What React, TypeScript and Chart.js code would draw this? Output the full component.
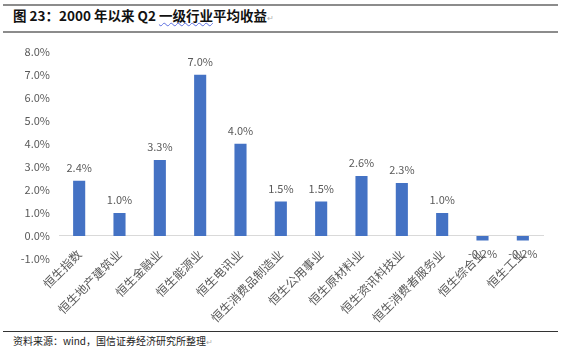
import React, { useEffect, useRef } from "react";
import { Chart, registerables } from "chart.js";

Chart.register(...registerables);

const categories = [
  "恒生指数",
  "恒生地产建筑业",
  "恒生金融业",
  "恒生能源业",
  "恒生电讯业",
  "恒生消费品制造业",
  "恒生公用事业",
  "恒生原材料业",
  "恒生资讯科技业",
  "恒生消费者服务业",
  "恒生综合业",
  "恒生工业",
];
const values = [2.4, 1.0, 3.3, 7.0, 4.0, 1.5, 1.5, 2.6, 2.3, 1.0, -0.2, -0.2];
const yMin = -1;
const yMax = 8;
const yStep = 1;

const titleText = "图 23：2000 年以来 Q2 ";
const titleUnderlined = "一级行业";
const titleRest = "平均收益";
const sourceText = "资料来源：wind，国信证券经济研究所整理";

const FONT = "'Noto Sans CJK SC', 'Noto Sans', sans-serif";
const LABEL_COLOR = "#595959";

const dataLabelPlugin = {
  id: "dataLabels",
  afterDatasetsDraw(chart: any) {
    const ctx = chart.ctx;
    const meta = chart.getDatasetMeta(0);
    ctx.save();
    ctx.font = `11px ${FONT}`;
    ctx.fillStyle = LABEL_COLOR;
    ctx.textAlign = "center";
    ctx.textBaseline = "middle";
    meta.data.forEach((el: any, i: number) => {
      const v = values[i];
      const label = v.toFixed(1) + "%";
      const y = v >= 0 ? el.y - 13 : el.y + 13;
      ctx.fillText(label, el.x, y);
    });
    ctx.restore();
  },
};

function BarChart() {
  const ref = useRef<HTMLCanvasElement | null>(null);
  useEffect(() => {
    if (!ref.current) return;
    const chart = new Chart(ref.current, {
      type: "bar",
      data: {
        labels: categories,
        datasets: [
          {
            data: values,
            backgroundColor: "#4472C4",
            borderWidth: 0,
            categoryPercentage: 1,
            barPercentage: 0.3,
          },
        ],
      },
      options: {
        animation: false,
        responsive: false,
        maintainAspectRatio: false,
        devicePixelRatio: 1,
        layout: { padding: { top: 15, bottom: 71, left: 9, right: 26 } },
        plugins: {
          legend: { display: false },
          title: { display: false },
          tooltip: { enabled: false },
        },
        scales: {
          x: {
            position: { y: 0 } as any,
            grid: { display: false, drawTicks: false },
            border: { display: true, color: "#d9d9d9", width: 1 },
            ticks: {
              autoSkip: false,
              minRotation: 45,
              maxRotation: 45,
              padding: 11,
              color: LABEL_COLOR,
              font: { size: 12, family: FONT },
            },
            afterFit: (s: any) => {
              s.height = 0;
            },
          },
          y: {
            min: yMin,
            max: yMax,
            grid: { display: false, drawTicks: false },
            border: { display: false },
            ticks: {
              stepSize: yStep,
              padding: 9,
              color: LABEL_COLOR,
              font: { size: 11, family: FONT },
              callback: (v: any) => Number(v).toFixed(1) + "%",
            },
            afterFit: (s: any) => {
              s.width = 50;
            },
          },
        },
      },
      plugins: [dataLabelPlugin],
    });
    return () => chart.destroy();
  }, []);
  return (
    <canvas
      ref={ref}
      width={569}
      height={294}
      style={{ position: "absolute", left: 0, top: 36, width: 569, height: 294 }}
    />
  );
}

export default function App() {
  const line = (top: number, h: number, color: string) => (
    <div
      style={{
        position: "absolute",
        left: 3,
        width: 555,
        top,
        height: h,
        background: color,
      }}
    />
  );
  return (
    <div
      style={{
        position: "absolute",
        left: 0,
        top: 0,
        width: 569,
        height: 355,
        background: "#ffffff",
        overflow: "hidden",
      }}
    >
      {line(4, 2, "#8c8c8c")}
      <div
        style={{
          position: "absolute",
          left: 13,
          top: 5,
          height: 20,
          lineHeight: "20px",
          fontFamily: FONT,
          fontWeight: 700,
          fontSize: 13.5,
          color: "#111",
          whiteSpace: "nowrap",
        }}
      >
        {titleText}
        <span
          style={{
            textDecorationLine: "underline",
            textDecorationStyle: "wavy",
            textDecorationColor: "#5b6ee0",
            textDecorationThickness: 1,
          }}
        >
          {titleUnderlined}
        </span>
        {titleRest}
        <span style={{ color: "#b0b0b0", fontWeight: 400, fontSize: 8 }}>↵</span>
      </div>
      {line(31, 2, "#8c8c8c")}
      <BarChart />
      {line(331, 1, "#333333")}
      <div
        style={{
          position: "absolute",
          left: 13,
          top: 333,
          height: 16,
          lineHeight: "16px",
          fontFamily: FONT,
          fontSize: 10,
          color: "#222",
          whiteSpace: "nowrap",
        }}
      >
        {sourceText}
        <span style={{ color: "#b0b0b0", fontSize: 8 }}>↵</span>
      </div>
    </div>
  );
}
